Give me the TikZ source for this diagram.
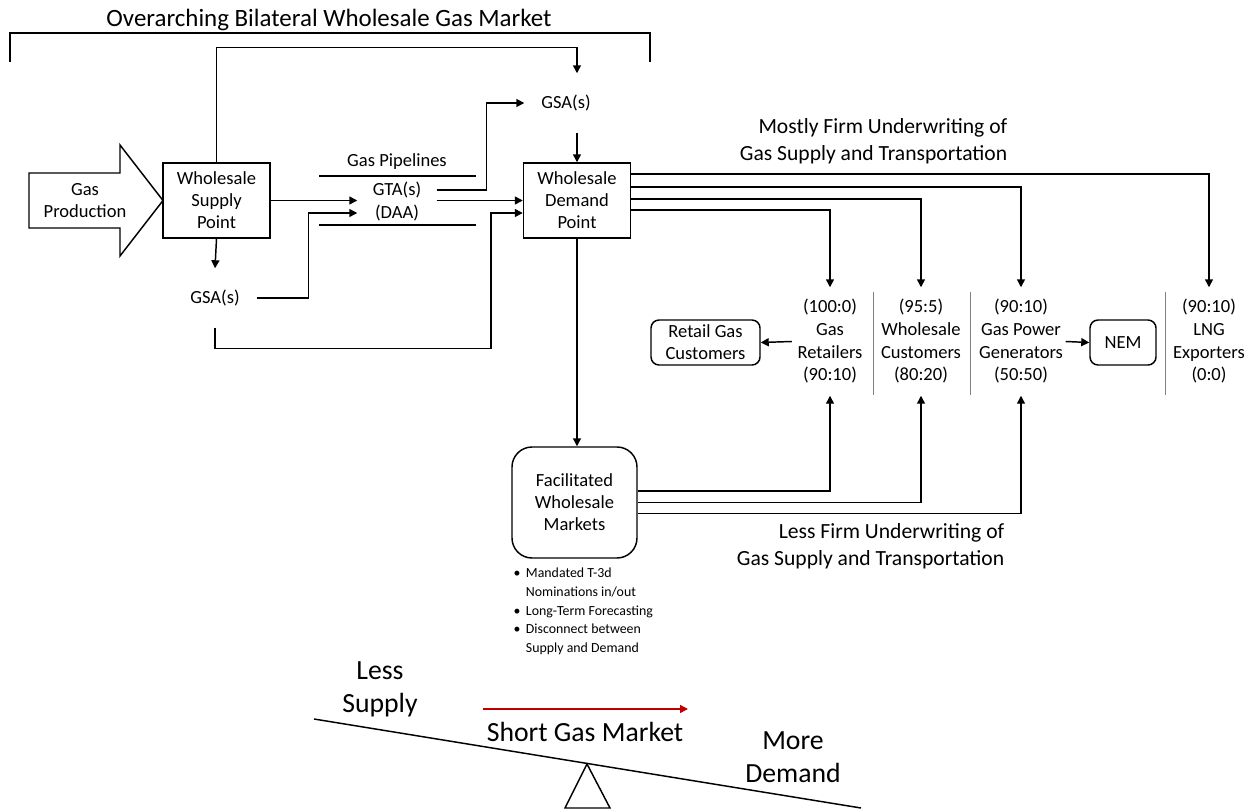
\documentclass[tikz,border=0pt]{standalone}
\usepackage{fontspec}
\setmainfont{Carlito}
\usetikzlibrary{arrows.meta,calc}
\definecolor{darkred}{HTML}{C00000}
\begin{document}
\begin{tikzpicture}[x=0.75pt,y=-0.75pt,
  line width=1.1pt,
  arr/.style={-{Triangle[length=6pt,width=6pt]}},
  body/.style={font=\fontsize{13.9}{16.5}\selectfont, align=center},
  box/.style={draw, body, inner sep=0, minimum width=80.25pt, minimum height=56.25pt},
  rbox/.style={draw, body, rounded corners=6pt, inner sep=0},
  lbl/.style={body, inner sep=0},
  gsa/.style={body, inner sep=0, minimum width=61.5pt, minimum height=43.5pt},
  cust/.style={font=\fontsize{13.9}{17}\selectfont, align=center, inner sep=0, minimum height=80.25pt},
  sep/.style={draw=gray, line width=0.75pt},
  pipe/.style={line width=2.2pt},
  big/.style={font=\fontsize{20.8}{24.5}\selectfont, align=center, inner sep=0},
]
\fill[white] (0,0) rectangle (1247,810);
\useasboundingbox (0,0) rectangle (1247,810);

% title and bracket
\node[font=\fontsize{18.7}{22}\selectfont, inner sep=0] (title) at (329,20) {Overarching Bilateral Wholesale Gas Market};
\draw (10,62) -- (10,33) -- (650,33) -- (650,62);

% gas production arrow
\draw (29,173) -- (120,173) -- (120,145) -- (163,200.5) -- (120,256) -- (120,228) -- (29,228) -- cycle;
\node[lbl] (gp) at (85,200.5) {Gas\\Production};

% main boxes
\node[box] (wsp) at (216.5,200.5) {Wholesale\\Supply\\Point};
\node[box] (wdp) at (577,200.5) {Wholesale\\Demand\\Point};
\node[gsa] (gsatop) at (566,103) {GSA(s)};
\node[gsa] (gsalow) at (215,298) {GSA(s)};

% pipelines
\node[lbl] (pipes) at (397,162) {Gas Pipelines};
\draw[pipe] (319,176) -- (476,176);
\draw[pipe] (319,225) -- (476,225);
\node[lbl, minimum width=58.5pt] (gta) at (397,190) {GTA(s)};
\node[lbl, minimum width=58.5pt] (daa) at (397,213) {(DAA)};

% connectors upper
\draw[arr] (wsp.north) |- ($(wdp.north)+(0,-115)$) -- (wdp.north |- gsatop.north);
\draw[arr] (wdp.north |- gsatop.south) -- (wdp.north);
\draw[arr] (wsp.east) -- (gta.west |- wsp.east);
\draw[arr] (gta.east |- wdp.west) -- (wdp.west);
\draw[arr] (gta.east) -- ++(50,0) |- (gsatop.west);
\draw[arr] (wsp.south) -- (gsalow.north);
\draw[arr] (gsalow.east) -- ++(52,0) |- (daa.west);
\draw[arr] (gsalow.south) |- ($(wdp.west)+(-32,148)$) |- ($(wdp.west)+(0,12.5)$);

% mostly firm
\node[font=\fontsize{16.2}{20}\selectfont, align=right, inner sep=0, anchor=east] (mf) at (1008,141.5) {Mostly Firm Underwriting of\\Gas Supply and Transportation};

% customers
\node[cust] (ret) at (830,341.5) {(100:0)\\Gas\\Retailers\\(90:10)};
\node[cust] (whc) at (921,341.5) {(95:5)\\Wholesale\\Customers\\(80:20)};
\node[cust] (gpg) at (1021,341.5) {(90:10)\\Gas Power\\Generators\\(50:50)};
\node[cust] (lng) at (1209,341.5) {(90:10)\\LNG\\Exporters\\(0:0)};

\draw[arr] ($(wdp.east)+(0,-26.5)$) -| (lng.north);
\draw[arr] ($(wdp.east)+(0,-13.5)$) -| (gpg.north);
\draw[arr] ($(wdp.east)+(0,-1.5)$) -| (whc.north);
\draw[arr] ($(wdp.east)+(0,9.5)$) -| (ret.north);

\draw[sep] (873,292) -- (873,395);
\draw[sep] (970,292) -- (970,395);
\draw[sep] (1165,292) -- (1165,395);

\node[rbox, minimum width=81.75pt, minimum height=33.75pt] (rgc) at (705.5,342.5) {Retail Gas\\Customers};
\draw[arr] ($(ret.west)+(-5,0)$) -- (rgc.east);
\node[rbox, minimum width=49.5pt, minimum height=33.75pt] (nem) at (1123,342.5) {NEM};
\draw[arr] ($(gpg.east)+(2,0)$) -- (nem.west);

% facilitated markets
\node[draw, body, rounded corners=15pt, inner sep=0, minimum width=93.75pt, minimum height=83.25pt] (fwm) at (574.5,502.5) {Facilitated\\Wholesale\\Markets};
\draw[arr] (wdp.south) -- (wdp.south |- fwm.north);
\draw[arr] ($(fwm.east)+(0,-11.5)$) -| (ret.south);
\draw[arr] (fwm.east) -| (whc.south);
\draw[arr] ($(fwm.east)+(0,11)$) -| (gpg.south);

\node[font=\fontsize{16.2}{20}\selectfont, align=right, inner sep=0, anchor=east] (lf) at (1005,546) {Less Firm Underwriting of\\Gas Supply and Transportation};

\node[anchor=north west, inner sep=0] (bul) at (513,564) {\fontsize{10.4}{14}\selectfont\begin{tabular}{@{}l@{\hspace{4pt}}l@{}}\textbullet & Mandated T-3d\\ & Nominations in/out\\ \textbullet & Long-Term Forecasting\\ \textbullet & Disconnect between\\ & Supply and Demand\end{tabular}};

% seesaw
\draw (314,719) -- (861,808);
\draw (587,764) -- (565,808) -- (610,808) -- cycle;
\node[big] (ls) at (380,689) {Less\\Supply};
\node[big] (md) at (793,757) {More\\Demand};
\node[big] (sgm) at (585,732) {Short Gas Market};
\draw[arr, draw=darkred, fill=darkred] (483,709) -- (688,709);
\end{tikzpicture}
\end{document}
